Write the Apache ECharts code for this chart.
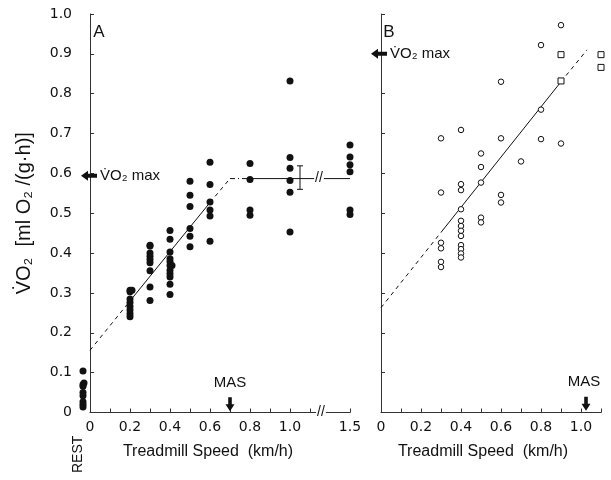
<!DOCTYPE html>
<html><head><meta charset="utf-8">
<script src="https://cdn.jsdelivr.net/npm/echarts@6/dist/echarts.min.js"></script>
<style>html,body{margin:0;padding:0;background:#fff}#c{width:611px;height:480px}</style>
</head><body><div id="c"></div>
<script>
const FONT = 'Liberation Sans';
const TICKFONT = 'DejaVu Sans';
const INK = '#111';

// ---------- Panel A data (filled circles) ----------
const restX = [-0.035, -0.03, -0.035, -0.035, -0.035, -0.035, -0.035, -0.035, -0.035];
const restY = [0.104, 0.074, 0.070, 0.066, 0.050, 0.042, 0.027, 0.020, 0.014];
const speedsA = [0.2, 0.3, 0.4, 0.5, 0.6, 0.8, 1.0, 1.5];
const a02 = [0.307, 0.303, 0.285, 0.276, 0.266, 0.257, 0.248, 0.240];
const a03 = [0.420, 0.418, 0.400, 0.392, 0.384, 0.376, 0.356, 0.315, 0.281];
const a04 = [0.457, 0.435, 0.403, 0.386, 0.378, 0.369, 0.357, 0.348, 0.340, 0.322, 0.296];
const a05 = [0.580, 0.545, 0.517, 0.462, 0.442, 0.416];
const a06 = [0.628, 0.572, 0.528, 0.508, 0.493, 0.430];
const a08 = [0.625, 0.585, 0.508, 0.495];
const a10 = [0.832, 0.640, 0.613, 0.582, 0.553, 0.453];
const a15 = [0.671, 0.641, 0.622, 0.604, 0.508, 0.497];
const valuesA = [a02, a03, a04, a05, a06, a08, a10, a15];
const offsetPtsA = [[0.21, 0.307], [0.41, 0.369]];
// regression & plateau lines
const aDash1 = [[0, 0.156], [0.2, 0.28]];
const aSolid = [[0.2, 0.28], [0.6, 0.527]];
const aDash2 = [[0.6, 0.527], [0.7, 0.587]];
const aDashDot = [[0.7, 0.587], [0.8, 0.587]];
const aPlateau1 = [[0.8, 0.587], [1.13, 0.587]];
const aPlateau2 = [[1.16, 0.587], [1.5, 0.587]];
const aErr = {x: 1.05, lo: 0.560, hi: 0.619, cap: 0.015};
const maxA = 0.594, masA = 0.7;

// ---------- Panel B data (open symbols) ----------
const speedsB = [0.3, 0.4, 0.5, 0.6, 0.7, 0.8, 0.9];
const b03 = [0.688, 0.552, 0.426, 0.412, 0.378, 0.365];
const b04 = [0.709, 0.573, 0.558, 0.510, 0.481, 0.468, 0.456, 0.443, 0.420, 0.410, 0.399, 0.389];
const b05 = [0.650, 0.616, 0.577, 0.489, 0.477];
const b06 = [0.830, 0.688, 0.546, 0.527];
const b07 = [0.630];
const b08 = [0.922, 0.760, 0.686];
const b09 = [0.972, 0.675];
const valuesB = [b03, b04, b05, b06, b07, b08, b09];
const sqSpeeds = [0.9, 1.1];
const sq09 = [0.898, 0.832];
const sq11 = [0.898, 0.866];
const sqValues = [sq09, sq11];
const bDash1 = [[0, 0.263], [0.3, 0.452]];
const bSolid = [[0.3, 0.452], [0.9, 0.83]];
const bDash2 = [[0.9, 0.83], [1.03, 0.91]];
const maxB = 0.9, masB = 1.025;

// ---------- tick labels ----------
const yTicks = [0, 0.1, 0.2, 0.3, 0.4, 0.5, 0.6, 0.7, 0.8, 0.9, 1.0];
const xTicksA = [0, 0.1, 0.2, 0.3, 0.4, 0.5, 0.6, 0.7, 0.8, 0.9, 1.0, 1.1, 1.5];
const xLabelsA = [0, 0.2, 0.4, 0.6, 0.8, 1.0, 1.5];
const xTicksB = [0, 0.1, 0.2, 0.3, 0.4, 0.5, 0.6, 0.7, 0.8, 0.9, 1.0, 1.1];
const xLabelsB = [0, 0.2, 0.4, 0.6, 0.8, 1.0];

// axis break in panel A: 1.5 drawn where 1.3 would be
const BREAK_SHIFT = 0.2;
const posA = v => (v >= 1.4 ? v - BREAK_SHIFT : v);
const fmt = v => (Math.abs(v) < 1e-9 ? '0' : v.toFixed(1));

const scatA = [];
speedsA.forEach((s, i) => valuesA[i].forEach(v => scatA.push([posA(s), v])));
offsetPtsA.forEach(p => scatA.push(p));
restX.forEach((x, i) => scatA.push([x, restY[i]]));
const scatB = [];
speedsB.forEach((s, i) => valuesB[i].forEach(v => scatB.push([s, v])));
const sqB = [];
sqSpeeds.forEach((s, i) => sqValues[i].forEach(v => sqB.push([s, v])));

const mapA = seg => seg.map(p => [posA(p[0]), p[1]]);

function lineSeries(idx, data, type, width) {
  return {type: 'line', xAxisIndex: idx, yAxisIndex: idx, data, symbol: 'none', silent: true,
    lineStyle: {color: INK, width: width || 1, type: type || 'solid', opacity: 1}, z: 3, animation: false};
}
function note(idx, x, y, text, o) {
  o = o || {};
  return {type: 'scatter', xAxisIndex: idx, yAxisIndex: idx, clip: false, silent: true, animation: false,
    symbol: o.symbol || 'circle', symbolSize: o.symbolSize || 0, symbolRotate: o.rot || 0,
    itemStyle: {color: INK, opacity: 1}, z: 5,
    data: [[x, y]],
    label: {show: !!text, formatter: text || '', position: o.pos || 'inside', distance: 0,
      rotate: o.labelRot || 0, fontFamily: o.font || FONT, fontSize: o.fs || 14, color: INK, opacity: 1,
      backgroundColor: o.bg || 'transparent', padding: o.pad || 0}};
}
const LEFT_ARROW = 'path://M0,5L7,0L7,3L16,3L16,7L7,7L7,10Z';
const DOWN_ARROW = 'path://M3,0L7,0L7,7L10,7L5,14L0,7L3,7Z';

const axisCommon = {
  axisLine: {show: true, lineStyle: {color: '#333', width: 1}},
  axisTick: {show: true, inside: true, length: 4, lineStyle: {color: '#333'}},
  splitLine: {show: false}
};
const tickLabel = {fontFamily: TICKFONT, fontSize: 14, color: INK, margin: 8};

const option = {
  animation: false,
  backgroundColor: '#fff',
  grid: [
    {left: 90, right: 261, top: 14, bottom: 67.5},
    {left: 381, right: 10, top: 14, bottom: 67.5}
  ],
  xAxis: [
    Object.assign({}, axisCommon, {gridIndex: 0, type: 'value', min: 0, max: 1.3,
      axisTick: Object.assign({}, axisCommon.axisTick, {customValues: xTicksA.map(posA)}),
      axisLabel: Object.assign({customValues: xLabelsA.map(posA), formatter: v => fmt(v >= 1.25 ? v + BREAK_SHIFT : v)}, tickLabel),
      name: 'Treadmill Speed  (km/h)', nameLocation: 'middle', nameGap: 31,
      nameTextStyle: {fontFamily: FONT, fontSize: 16, color: INK, padding: [0, 24, 0, 0]}}),
    Object.assign({}, axisCommon, {gridIndex: 1, type: 'value', min: 0, max: 1.1,
      axisTick: Object.assign({}, axisCommon.axisTick, {customValues: xTicksB}),
      axisLabel: Object.assign({customValues: xLabelsB, formatter: fmt}, tickLabel),
      name: 'Treadmill Speed  (km/h)', nameLocation: 'middle', nameGap: 31,
      nameTextStyle: {fontFamily: FONT, fontSize: 16, color: INK, padding: [0, 16, 0, 0]}})
  ],
  yAxis: [
    Object.assign({}, axisCommon, {gridIndex: 0, type: 'value', min: 0, max: 1.0, offset: 10,
      axisTick: Object.assign({}, axisCommon.axisTick, {customValues: yTicks}),
      axisLabel: Object.assign({customValues: yTicks, formatter: fmt}, tickLabel),
      name: 'V\u0307O\u2082  [ml O\u2082 /(g\u00b7h)]', nameLocation: 'middle', nameGap: 46, nameRotate: 90,
      nameTextStyle: {fontFamily: FONT, fontSize: 20, color: INK}}),
    Object.assign({}, axisCommon, {gridIndex: 1, type: 'value', min: 0, max: 1.0, offset: 10,
      axisTick: Object.assign({}, axisCommon.axisTick, {customValues: yTicks}),
      axisLabel: {show: false}})
  ],
  series: [
    {type: 'scatter', xAxisIndex: 0, yAxisIndex: 0, data: scatA, clip: false, symbol: 'circle', symbolSize: 7,
      itemStyle: {color: INK, opacity: 1}, z: 4},
    {type: 'scatter', xAxisIndex: 1, yAxisIndex: 1, data: scatB, symbol: 'circle', symbolSize: 5.5,
      itemStyle: {color: '#fff', borderColor: INK, borderWidth: 1, opacity: 1}, z: 4},
    {type: 'scatter', xAxisIndex: 1, yAxisIndex: 1, data: sqB, clip: false, symbol: 'rect', symbolSize: 6,
      itemStyle: {color: '#fff', borderColor: INK, borderWidth: 1, opacity: 1}, z: 4},
    lineSeries(0, aDash1, [4, 4]),
    lineSeries(0, aSolid),
    lineSeries(0, aDash2, [4, 4]),
    lineSeries(0, aDashDot, [5, 3, 1, 3]),
    lineSeries(0, mapA(aPlateau1)),
    lineSeries(0, mapA(aPlateau2)),
    lineSeries(0, [[aErr.x, aErr.lo], [aErr.x, aErr.hi]]),
    lineSeries(0, [[aErr.x - aErr.cap, aErr.lo], [aErr.x + aErr.cap, aErr.lo]]),
    lineSeries(0, [[aErr.x - aErr.cap, aErr.hi], [aErr.x + aErr.cap, aErr.hi]]),
    lineSeries(1, bDash1, [4, 4]),
    lineSeries(1, bSolid),
    lineSeries(1, bDash2, [4, 4]),
    // break marks
    note(0, 1.145, 0.587, '//', {fs: 14, bg: '#fff', pad: [0, 1]}),
    note(0, 1.155, 0.0, '//', {fs: 14, bg: '#fff', pad: [0, 1]}),
    // panel letters
    note(0, 0.045, 0.955, 'A', {fs: 17}),
    note(1, 0.04, 0.955, 'B', {fs: 17}),
    // VO2 max arrows and labels
    note(0, -0.005, maxA, '', {symbol: LEFT_ARROW, symbolSize: [16, 10]}),
    note(0, 0.05, maxA, 'V\u0307O\u2082 max', {pos: 'right', fs: 15}),
    note(1, -0.01, maxB, '', {symbol: LEFT_ARROW, symbolSize: [16, 10]}),
    note(1, 0.045, maxB, 'V\u0307O\u2082 max', {pos: 'right', fs: 15}),
    // MAS arrows and labels
    note(0, masA, 0.021, '', {symbol: DOWN_ARROW, symbolSize: [9, 14]}),
    note(0, masA, 0.075, 'MAS', {fs: 15}),
    note(1, masB, 0.022, '', {symbol: DOWN_ARROW, symbolSize: [9, 14]}),
    note(1, masB - 0.01, 0.078, 'MAS', {fs: 15}),
    // REST label
    note(0, -0.06, -0.105, 'REST', {labelRot: 90, fs: 14})
  ]
};
const chart = echarts.init(document.getElementById('c'), null, {renderer: 'canvas'});
chart.setOption(option);
</script></body></html>
